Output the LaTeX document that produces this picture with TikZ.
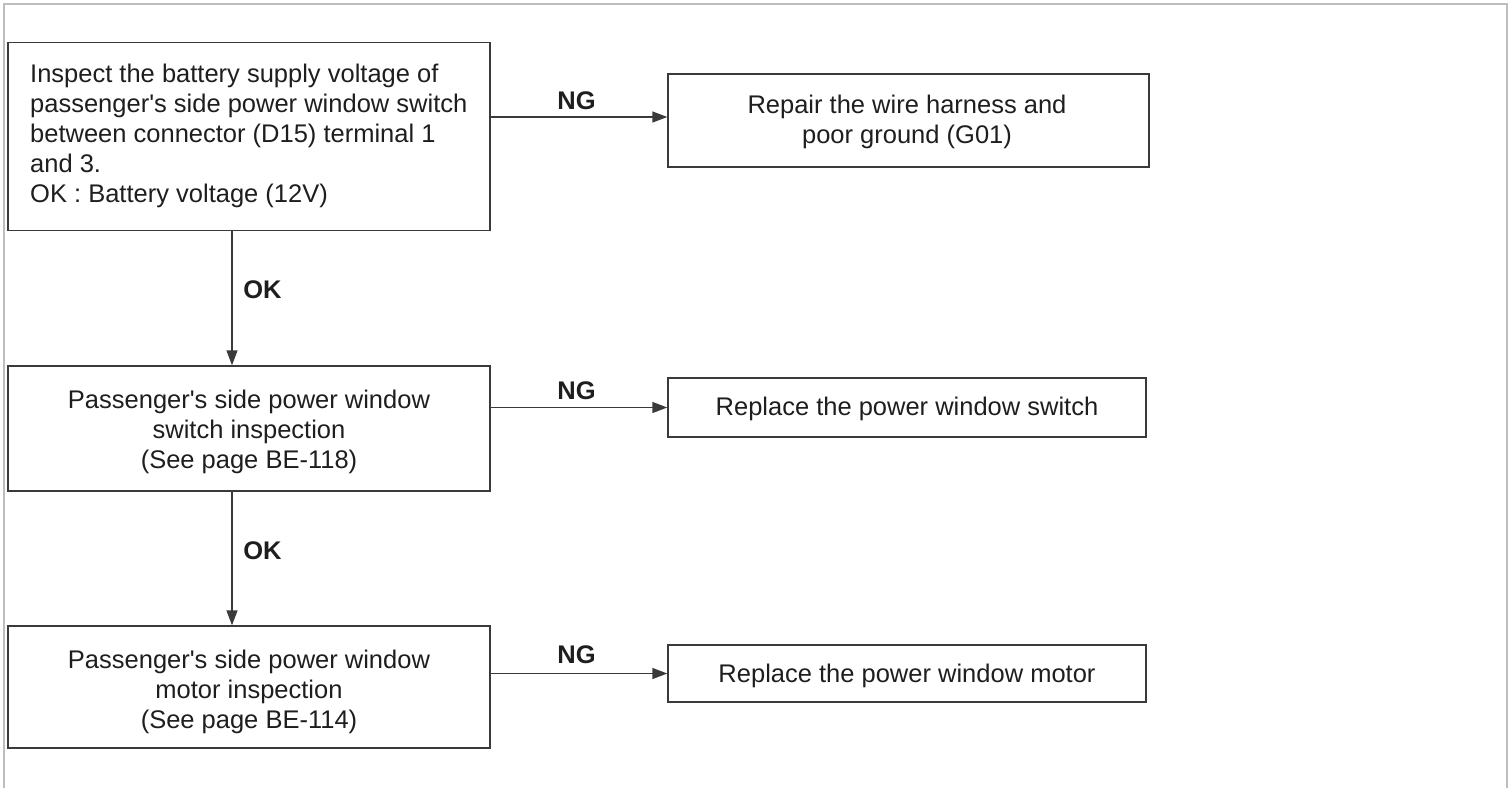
\documentclass[tikz,border=0pt]{standalone}
\usepackage{fontspec}
\setmainfont{Liberation Sans}[Ligatures=TeXOff]
\usetikzlibrary{arrows.meta}
\definecolor{ln}{HTML}{3A3A3A}
\definecolor{tx}{HTML}{1E1E1E}
\definecolor{frame}{HTML}{BDBDBD}
\tikzset{
  box/.style={draw=ln, line width=1.4pt, rectangle, inner sep=0pt},
  btext/.style={text=tx, font=\fontsize{25.5}{30}\selectfont, align=center, inner sep=0pt},
  arr/.style={draw=ln, line width=1.4pt, -{Triangle[length=15pt,width=11pt]}},
  lbl/.style={text=tx, font=\fontsize{25.5}{30}\selectfont\bfseries, inner sep=0pt}
}
\begin{document}
\begin{tikzpicture}[x=1pt,y=-1pt]
\useasboundingbox (0,0) rectangle (1510,788);
\draw[frame, line width=2pt] (4,788) -- (4,4) -- (1507,4) -- (1507,788);

\node[box, minimum width=482pt, minimum height=188pt] (b1) at (249,136.5) {};
\node[btext, align=left, anchor=north west] (t1) at (30,64)
  {Inspect the battery supply voltage of\\passenger's side power window switch\\between connector (D15) terminal 1\\and 3.\\OK : Battery voltage (12V)};
\node[box, minimum width=482pt, minimum height=125pt] (b2) at (249,428.5) {};
\node[btext] (t2) at (249,432)
  {Passenger's side power window\\switch inspection\\(See page BE-118)};
\node[box, minimum width=482pt, minimum height=122pt] (b3) at (249,687) {};
\node[btext] (t3) at (249,692)
  {Passenger's side power window\\motor inspection\\(See page BE-114)};

\node[box, minimum width=481pt, minimum height=93pt] (r1) at (908.5,120.5) {};
\node[btext] (tr1) at (907,121.5) {Repair the wire harness and\\poor ground (G01)};
\node[box, minimum width=478pt, minimum height=59pt] (r2) at (907,407.5) {};
\node[btext] (tr2) at (907,409) {Replace the power window switch};
\node[box, minimum width=478pt, minimum height=57pt] (r3) at (907,673.5) {};
\node[btext] (tr3) at (907,675.5) {Replace the power window motor};

\draw[arr] ([yshift=3.5pt]r1.west -| b1.east) -- ([yshift=3.5pt]r1.west);
\draw[arr] (r2.west -| b2.east) -- (r2.west);
\draw[arr] (r3.west -| b3.east) -- (r3.west);
\draw[arr] ([xshift=-17pt]b1.south) -- ([xshift=-17pt]b2.north);
\draw[arr] ([xshift=-17pt]b2.south) -- ([xshift=-17pt]b3.north);

\node[lbl] (ng1) at (576.5,101) {NG};
\node[lbl] (ng2) at (576.5,391) {NG};
\node[lbl] (ng3) at (576.5,655) {NG};
\node[lbl] (ok1) at (262.5,290) {OK};
\node[lbl] (ok2) at (262.5,551) {OK};
\end{tikzpicture}
\end{document}
